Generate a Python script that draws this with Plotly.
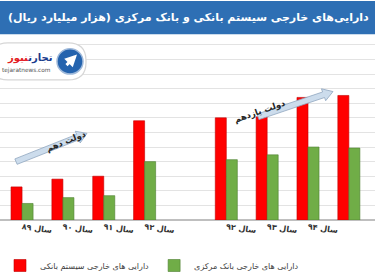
import math
import plotly.graph_objects as go

# ---------------- data ----------------
years = ["سال ۸۹", "سال ۹۰", "سال ۹۱", "سال ۹۲", "سال ۹۲", "سال ۹۳", "سال ۹۴", "سال ۹۵"]
government = ["دهم", "دهم", "دهم", "دهم", "یازدهم", "یازدهم", "یازدهم", "یازدهم"]
banking_system = [340, 420, 450, 1020, 1050, 1060, 1260, 1280]
central_bank = [170, 230, 250, 600, 620, 670, 750, 740]

name_banking = "دارایی های خارجی سیستم بانکی"
name_central = "دارایی های خارجی بانک مرکزی"
title_text = "دارایی‌های خارجی سیستم بانکی و بانک مرکزی (هزار میلیارد ریال)"

# ---------------- layout helpers ----------------
W, H = 375, 280
ML, MR, MT, MB = 0, 0, 40, 55
PW, PH = W - ML - MR, H - MT - MB
FONT = "DejaVu Sans"


def px(x):
    return (x - ML) / PW


def py(y):
    return (H - MB - y) / PH


# one empty slot between the two governments
x_pos = []
slot = 0
for i, g in enumerate(government):
    if i > 0 and g != government[i - 1]:
        slot += 1
    x_pos.append(slot)
    slot += 1

fig = go.Figure()
fig.add_trace(go.Bar(x=x_pos, y=banking_system, name=name_banking,
                     marker=dict(color="#FF0000", line=dict(color="#C00000", width=0.6))))
fig.add_trace(go.Bar(x=x_pos, y=central_bank, name=name_central,
                     marker=dict(color="#70AD47", line=dict(color="#4E7F30", width=0.6))))

shapes = []
annotations = []

# title band
shapes.append(dict(type="rect", xref="paper", yref="paper", x0=0, x1=1,
                   y0=py(34), y1=py(0), fillcolor="#2E6FB4", line=dict(width=0), layer="above"))
annotations.append(dict(xref="paper", yref="paper", x=px(371), y=py(17), xanchor="right",
                        yanchor="middle", showarrow=False, text="<b>" + title_text + "</b>",
                        font=dict(family=FONT, size=11, color="white")))


def rounded_rect(x0, y0, x1, y1, r):
    return (f"M {px(x0 + r)},{py(y0)} L {px(x1 - r)},{py(y0)} "
            f"Q {px(x1)},{py(y0)} {px(x1)},{py(y0 + r)} L {px(x1)},{py(y1 - r)} "
            f"Q {px(x1)},{py(y1)} {px(x1 - r)},{py(y1)} L {px(x0 + r)},{py(y1)} "
            f"Q {px(x0)},{py(y1)} {px(x0)},{py(y1 - r)} L {px(x0)},{py(y0 + r)} "
            f"Q {px(x0)},{py(y0)} {px(x0 + r)},{py(y0)} Z")


# logo
shapes.append(dict(type="path", xref="paper", yref="paper", path=rounded_rect(-10, 43, 86, 81, 18),
                   fillcolor="white", line=dict(color="#d6d6d6", width=1.2), layer="above"))
shapes.append(dict(type="circle", xref="paper", yref="paper", x0=px(57), x1=px(83),
                   y0=py(75), y1=py(49), fillcolor="#2463AE", line=dict(color="#9fb9da", width=1.5),
                   layer="above"))
annotations.append(dict(xref="paper", yref="paper", axref="pixel", ayref="pixel",
                        x=px(77), y=py(55), ax=-12, ay=12, text="", showarrow=True,
                        arrowhead=2, arrowsize=0.8, arrowwidth=3, arrowcolor="white"))
annotations.append(dict(xref="paper", yref="paper", x=px(55), y=py(58), xanchor="right",
                        yanchor="middle", showarrow=False,
                        text="<b><span style='color:#1B3A8C'>تجارت</span>"
                             "<span style='color:#E31E24'>نیوز</span></b>",
                        font=dict(family=FONT, size=10, color="#1B3A8C")))
annotations.append(dict(xref="paper", yref="paper", x=px(53), y=py(71), xanchor="right",
                        yanchor="middle", showarrow=False, text="tejaratnews.com",
                        font=dict(family=FONT, size=5.8, color="#555555")))


def block_arrow(x0, y0, x1, y1, shaft=3.0, head=6.5, head_len=10):
    dx, dy = x1 - x0, y1 - y0
    L = math.hypot(dx, dy)
    ux, uy = dx / L, dy / L
    nx, ny = -uy, ux
    bx, by = x1 - ux * head_len, y1 - uy * head_len
    pts = [
        (x0 + nx * shaft, y0 + ny * shaft),
        (bx + nx * shaft, by + ny * shaft),
        (bx + nx * head, by + ny * head),
        (x1, y1),
        (bx - nx * head, by - ny * head),
        (bx - nx * shaft, by - ny * shaft),
        (x0 - nx * shaft, y0 - ny * shaft),
    ]
    return "M " + " L ".join(f"{px(a)},{py(b)}" for a, b in pts) + " Z"


arrows = [
    ((16, 165, 87, 136), (42, 144), "دولت " + government[0]),
    ((258, 119, 333, 93), (290, 96), "دولت " + government[-1]),
]
for (x0, y0, x1, y1), (tx, ty), label in arrows:
    shapes.append(dict(type="path", xref="paper", yref="paper", path=block_arrow(x0, y0, x1, y1),
                       fillcolor="#CCDCEC", line=dict(color="#8FA6BF", width=0.8), layer="above"))
    ang = -math.degrees(math.atan2(y0 - y1, x1 - x0))
    annotations.append(dict(xref="paper", yref="paper", x=px(tx), y=py(ty), showarrow=False,
                            text="<b>" + label + "</b>", textangle=ang,
                            font=dict(family=FONT, size=8.5, color="#262626")))

fig.update_layout(
    width=W, height=H,
    margin=dict(l=ML, r=MR, t=MT, b=MB, pad=0),
    paper_bgcolor="white", plot_bgcolor="white",
    barmode="group", bargap=0.46, bargroupgap=0,
    showlegend=True,
    legend=dict(orientation="h", x=0, xanchor="left", y=py(257), yanchor="top",
                font=dict(family=FONT, size=8, color="#404040"), itemwidth=30,
                bgcolor="rgba(0,0,0,0)", traceorder="normal"),
    xaxis=dict(range=[-0.54, 8.64], tickmode="array", tickvals=x_pos,
               ticktext=["<b>" + t + "</b>" for t in years], tickangle=8,
               tickfont=dict(family=FONT, size=8, color="#333333"),
               showgrid=False, showline=False, zeroline=False, ticks=""),
    yaxis=dict(range=[0, 1850], dtick=150, showticklabels=False, showgrid=True,
               gridcolor="#E3E3E3", gridwidth=1, zeroline=True, zerolinecolor="#BFBFBF",
               zerolinewidth=1.5, showline=False, ticks=""),
    shapes=shapes,
    annotations=annotations,
    font=dict(family=FONT),
)

fig.write_html("out.html")
